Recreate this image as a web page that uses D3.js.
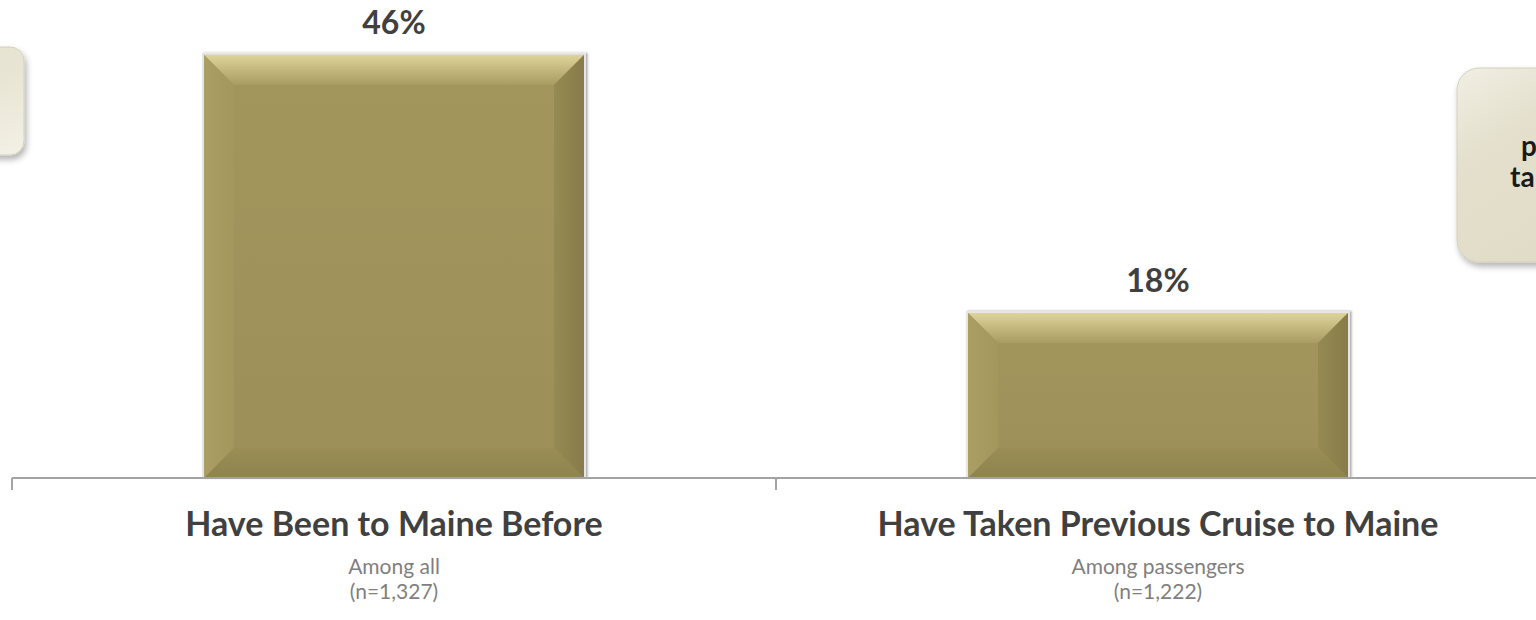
<!DOCTYPE html>
<html>
<head>
<meta charset="utf-8">
<script src="https://cdn.jsdelivr.net/npm/d3@7"></script>
<style>
  html, body { margin: 0; padding: 0; background: #ffffff; overflow: hidden; }
  svg { display: block; font-family: Lato, "Open Sans", "Liberation Sans", sans-serif; }
</style>
</head>
<body>
<svg id="chart" width="1536" height="620"></svg>
<script>
// ---- data ----
const categories = ["Have Been to Maine Before", "Have Taken Previous Cruise to Maine"];
const values = [46, 18];
const subLabels = ["Among all", "Among passengers"];
const sampleSizes = ["(n=1,327)", "(n=1,222)"];
const calloutLines = ["passengers", "taken a"];

const svg = d3.select("#chart");
const W = 1536, H = 620;

const x = d3.scaleBand().domain(categories).range([12, 1540]).paddingInner(0.5).paddingOuter(0.25);
const y = d3.scaleLinear().domain([0, 50]).range([478, 17]);

const defs = svg.append("defs");
function lin(id, x1, y1, x2, y2, stops) {
  const g = defs.append("linearGradient").attr("id", id)
    .attr("x1", x1).attr("y1", y1).attr("x2", x2).attr("y2", y2);
  stops.forEach(s => g.append("stop").attr("offset", s[0]).attr("stop-color", s[1]));
}
lin("gTop", 0, 0, 0, 1, [[0, "#ded49b"], [0.45, "#c6ba80"], [1, "#a99c62"]]);
lin("gLeft", 0, 0, 1, 0, [[0, "#ab9e65"], [1, "#a4975e"]]);
lin("gRight", 0, 0, 1, 0, [[0, "#958a53"], [1, "#877c48"]]);
lin("gBottom", 0, 0, 0, 1, [[0, "#9a8e56"], [1, "#8f834e"]]);
lin("gFace", 0, 0, 0, 1, [[0, "#a3965d"], [1, "#9c8f58"]]);
lin("gBox", 0, 0, 1, 1, [[0, "#f1efe4"], [0.25, "#e4e0cd"], [1, "#dcd8c2"]]);
lin("gBoxL", 0, 0, 1, 1, [[0, "#e2dec9"], [0.6, "#e8e5d4"], [1, "#f3f1e6"]]);

const shadow = defs.append("filter").attr("id", "shadow")
  .attr("x", "-20%").attr("y", "-20%").attr("width", "140%").attr("height", "150%");
shadow.append("feDropShadow").attr("dx", 2).attr("dy", 4).attr("stdDeviation", 3)
  .attr("flood-color", "#000").attr("flood-opacity", 0.3);
const barShadow = defs.append("filter").attr("id", "barShadow")
  .attr("x", "-5%").attr("y", "-5%").attr("width", "110%").attr("height", "110%");
barShadow.append("feDropShadow").attr("dx", 1.5).attr("dy", 0).attr("stdDeviation", 1)
  .attr("flood-color", "#000").attr("flood-opacity", 0.35);

// ---- callout boxes (partially off-canvas, as in the reference) ----
svg.append("rect").attr("x", -220).attr("y", 47).attr("width", 244).attr("height", 108)
  .attr("rx", 14).attr("fill", "url(#gBoxL)").attr("stroke", "#d4d0bb").attr("stroke-width", 1)
  .attr("filter", "url(#shadow)");

svg.append("rect").attr("x", 1457).attr("y", 68).attr("width", 300).attr("height", 194)
  .attr("rx", 22).attr("fill", "url(#gBox)").attr("stroke", "#d4d0bb").attr("stroke-width", 1)
  .attr("filter", "url(#shadow)");
const cx = [1521, 1510];
const cy = [156, 187];
calloutLines.forEach((t, i) => {
  svg.append("text").attr("x", cx[i]).attr("y", cy[i])
    .attr("font-size", 28).attr("font-weight", 700).attr("fill", "#1a1a1a").text(t);
});

// ---- bars ----
const b = 30;
const bars = svg.append("g");
categories.forEach((c, i) => {
  const x0 = x(c), x1 = x(c) + x.bandwidth();
  const y0 = y(values[i]), y1 = y(0);
  const g = bars.append("g");
  g.append("rect").attr("x", x0 - 1).attr("y", y0 - 1).attr("width", x1 - x0 + 2).attr("height", y1 - y0 + 1)
    .attr("fill", "#e6e6e6").attr("filter", "url(#barShadow)");
  g.append("rect").attr("x", x0 + 1).attr("y", y0 + 1).attr("width", x1 - x0 - 2).attr("height", y1 - y0 - 1)
    .attr("fill", "url(#gFace)");
  const X0 = x0 + 1, X1 = x1 - 1, Y0 = y0 + 1, Y1 = y1;
  const poly = (pts, fill) => g.append("polygon").attr("points", pts.map(p => p.join(",")).join(" ")).attr("fill", fill);
  poly([[X0, Y0], [X1, Y0], [X1 - b, Y0 + b], [X0 + b, Y0 + b]], "url(#gTop)");
  poly([[X0, Y0], [X0 + b, Y0 + b], [X0 + b, Y1 - b], [X0, Y1]], "url(#gLeft)");
  poly([[X1, Y0], [X1, Y1], [X1 - b, Y1 - b], [X1 - b, Y0 + b]], "url(#gRight)");
  poly([[X0, Y1], [X0 + b, Y1 - b], [X1 - b, Y1 - b], [X1, Y1]], "url(#gBottom)");

  svg.append("text").attr("x", (x0 + x1) / 2).attr("y", y0 - 20)
    .attr("text-anchor", "middle").attr("font-size", 32).attr("font-weight", 700)
    .attr("fill", "#404040").text(values[i] + "%");
});

// ---- axis ----
const axisY = y(0);
const step = x.step();
const gap = (step - x.bandwidth()) / 2;
const bounds = categories.map(c => x(c) - gap).concat([x(categories[categories.length - 1]) + x.bandwidth() + gap]);
svg.append("line").attr("x1", bounds[0]).attr("x2", W + 10).attr("y1", axisY).attr("y2", axisY)
  .attr("stroke", "#a3a3a3").attr("stroke-width", 2);
bounds.forEach(bx => {
  svg.append("line").attr("x1", bx).attr("x2", bx).attr("y1", axisY).attr("y2", axisY + 12)
    .attr("stroke", "#a3a3a3").attr("stroke-width", 2);
});

// ---- category labels ----
categories.forEach((c, i) => {
  const mx = x(c) + x.bandwidth() / 2;
  svg.append("text").attr("x", mx).attr("y", 536).attr("text-anchor", "middle")
    .attr("font-size", 34).attr("font-weight", 700).attr("fill", "#404040").text(c);
  svg.append("text").attr("x", mx).attr("y", 574).attr("text-anchor", "middle")
    .attr("font-size", 21).attr("fill", "#7f7f7f").text(subLabels[i]);
  svg.append("text").attr("x", mx).attr("y", 599).attr("text-anchor", "middle")
    .attr("font-size", 21).attr("fill", "#7f7f7f").text(sampleSizes[i]);
});
</script>
</body>
</html>
